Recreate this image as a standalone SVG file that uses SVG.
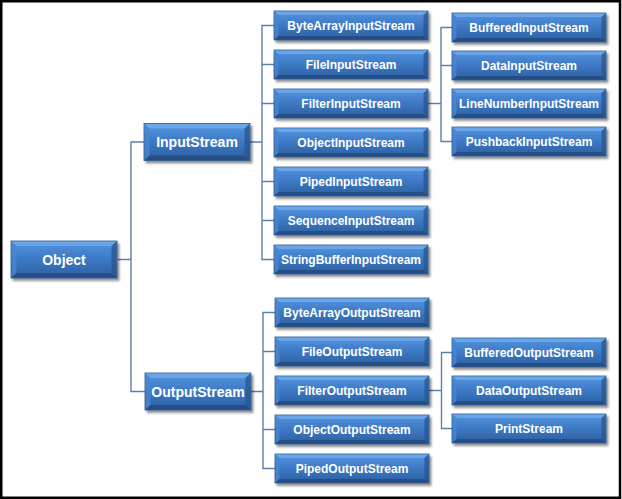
<svg xmlns="http://www.w3.org/2000/svg" xmlns:xlink="http://www.w3.org/1999/xlink" width="622" height="499" viewBox="0 0 622 499">
<style>
.t{font-family:"Liberation Sans",Arial,sans-serif;font-weight:bold;fill:#ffffff;text-anchor:middle;dominant-baseline:central}
.s{font-size:12px}
.b{font-size:14px}
.c{fill:none;stroke:#5b80ae;stroke-width:1.4}
</style>
<defs>
<linearGradient id="g" x1="0" y1="0" x2="0" y2="1">
<stop offset="0" stop-color="#5495e0"/>
<stop offset="0.5" stop-color="#3d78c4"/>
<stop offset="1" stop-color="#2b5f9f"/>
</linearGradient>
<filter id="sh" x="-10%" y="-20%" width="130%" height="160%">
<feDropShadow dx="2" dy="2.5" stdDeviation="1.3" flood-color="#000" flood-opacity="0.45"/>
</filter>
<g id="small">
<rect x="0" y="0" width="154" height="29" fill="url(#g)" stroke="#2a5689" stroke-width="0.8" filter="url(#sh)"/>
<polygon points="0.5,0.5 153.5,0.5 149.5,4 4.5,4" fill="#74acec" opacity="0.75"/>
<polygon points="0.5,0.5 4.5,4 4.5,25 0.5,28.5" fill="#4a86d0" opacity="0.8"/>
<polygon points="153.5,0.5 153.5,28.5 149.5,25 149.5,4" fill="#285790" opacity="0.8"/>
<polygon points="0.5,28.5 153.5,28.5 149.5,25 4.5,25" fill="#22497c" opacity="0.8"/>
</g>
<g id="big">
<rect x="0" y="0" width="106" height="37" fill="url(#g)" stroke="#2a5689" stroke-width="0.8" filter="url(#sh)"/>
<polygon points="0.5,0.5 105.5,0.5 100.5,5 5.5,5" fill="#74acec" opacity="0.75"/>
<polygon points="0.5,0.5 5.5,5 5.5,32 0.5,36.5" fill="#4a86d0" opacity="0.8"/>
<polygon points="105.5,0.5 105.5,36.5 100.5,32 100.5,5" fill="#285790" opacity="0.8"/>
<polygon points="0.5,36.5 105.5,36.5 100.5,32 5.5,32" fill="#22497c" opacity="0.8"/>
</g>
</defs>
<rect x="0" y="0" width="622" height="499" fill="#ffffff"/>
<rect x="1.25" y="1.25" width="618.75" height="496.5" fill="none" stroke="#000" stroke-width="2.5"/>

<g id="connectors">
<path class="c" d="M118 259.5H131M144 142H131V391.5H145"/>
<path class="c" d="M250 142H262M274 25.5H262V259.5H274M262 64.5H274M262 103.5H274M262 181.5H274M262 220.5H274"/>
<path class="c" d="M251 391.5H263M275 312.5H263V468.5H275M263 351.5H275M263 429.5H275"/>
<path class="c" d="M428 103.5H441M452 27.5H441V141.5H452M441 65.5H452"/>
<path class="c" d="M429 390.5H441.5M452 352.5H441.5V428.5H452"/>
</g>

<g id="n-object"><use xlink:href="#big" x="11" y="241"/><text class="t b" x="64" y="259.5">Object</text></g>
<g id="n-inputstream"><use xlink:href="#big" x="144" y="123.5"/><text class="t b" x="197" y="142">InputStream</text></g>
<g id="n-outputstream"><use xlink:href="#big" x="145" y="373"/><text class="t b" x="198" y="391.5">OutputStream</text></g>

<g id="n-bytearrayinputstream"><use xlink:href="#small" x="274" y="11"/><text class="t s" x="351" y="25.5">ByteArrayInputStream</text></g>
<g id="n-fileinputstream"><use xlink:href="#small" x="274" y="50"/><text class="t s" x="351" y="64.5">FileInputStream</text></g>
<g id="n-filterinputstream"><use xlink:href="#small" x="274" y="89"/><text class="t s" x="351" y="103.5">FilterInputStream</text></g>
<g id="n-objectinputstream"><use xlink:href="#small" x="274" y="128"/><text class="t s" x="351" y="142.5">ObjectInputStream</text></g>
<g id="n-pipedinputstream"><use xlink:href="#small" x="274" y="167"/><text class="t s" x="351" y="181.5">PipedInputStream</text></g>
<g id="n-sequenceinputstream"><use xlink:href="#small" x="274" y="206"/><text class="t s" x="351" y="220.5">SequenceInputStream</text></g>
<g id="n-stringbufferinputstream"><use xlink:href="#small" x="274" y="245"/><text class="t s" x="351" y="259.5">StringBufferInputStream</text></g>

<g id="n-bufferedinputstream"><use xlink:href="#small" x="452" y="13"/><text class="t s" x="529" y="27.5">BufferedInputStream</text></g>
<g id="n-datainputstream"><use xlink:href="#small" x="452" y="51"/><text class="t s" x="529" y="65.5">DataInputStream</text></g>
<g id="n-linenumberinputstream"><use xlink:href="#small" x="452" y="89"/><text class="t s" x="529" y="103.5">LineNumberInputStream</text></g>
<g id="n-pushbackinputstream"><use xlink:href="#small" x="452" y="127"/><text class="t s" x="529" y="141.5">PushbackInputStream</text></g>

<g id="n-bytearrayoutputstream"><use xlink:href="#small" x="275" y="298"/><text class="t s" x="352" y="312.5">ByteArrayOutputStream</text></g>
<g id="n-fileoutputstream"><use xlink:href="#small" x="275" y="337"/><text class="t s" x="352" y="351.5">FileOutputStream</text></g>
<g id="n-filteroutputstream"><use xlink:href="#small" x="275" y="376"/><text class="t s" x="352" y="390.5">FilterOutputStream</text></g>
<g id="n-objectoutputstream"><use xlink:href="#small" x="275" y="415"/><text class="t s" x="352" y="429.5">ObjectOutputStream</text></g>
<g id="n-pipedoutputstream"><use xlink:href="#small" x="275" y="454"/><text class="t s" x="352" y="468.5">PipedOutputStream</text></g>

<g id="n-bufferedoutputstream"><use xlink:href="#small" x="452" y="338"/><text class="t s" x="529" y="352.5">BufferedOutputStream</text></g>
<g id="n-dataoutputstream"><use xlink:href="#small" x="452" y="376"/><text class="t s" x="529" y="390.5">DataOutputStream</text></g>
<g id="n-printstream"><use xlink:href="#small" x="452" y="414"/><text class="t s" x="529" y="428.5">PrintStream</text></g>
</svg>
